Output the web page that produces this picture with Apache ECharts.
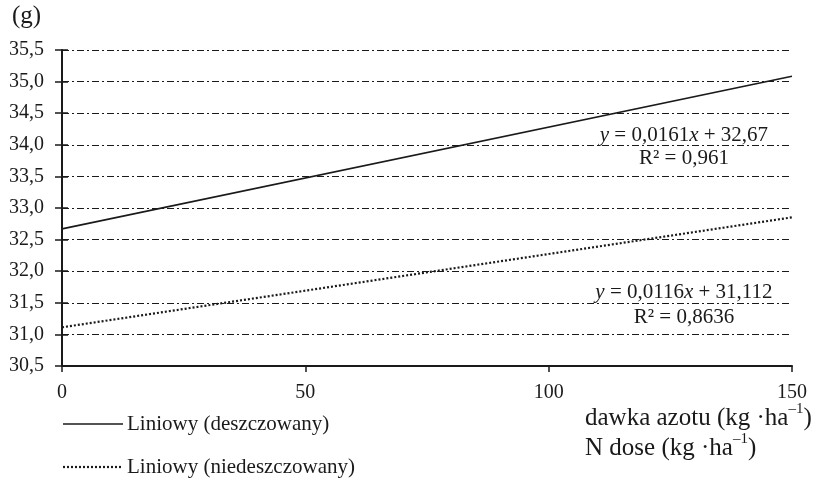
<!DOCTYPE html>
<html>
<head>
<meta charset="utf-8">
<title>Masa 1000 ziaren a dawka azotu</title>
<script src="https://cdn.jsdelivr.net/npm/echarts@6/dist/echarts.min.js"></script>
<style>
  html, body { margin: 0; padding: 0; background: #fff; }
  #chart { width: 818px; height: 486px; }
</style>
</head>
<body>
<div id="chart"></div>
<script>
// Nitrogen dose (kg/ha) at the ends of the fitted lines
const doses = [0, 150];
// Linear trend values, irrigated (deszczowany)
const irrigated = [32.67, 35.085];
// Linear trend values, non-irrigated (niedeszczowany)
const nonIrrigated = [31.112, 32.852];
// Trend equations and fit quality
const eqIrrigated = { slope: '0,0161', intercept: '32,67', r2: '0,961' };
const eqNonIrrigated = { slope: '0,0116', intercept: '31,112', r2: '0,8636' };
// Axis ranges
const yTicks = { min: 30.5, max: 35.5, step: 0.5 };
const xTicks = { min: 0, max: 150, step: 50 };

const FONT = '"Liberation Serif", "Times New Roman", serif';
const INK = '#1a1a1a';

const chart = echarts.init(document.getElementById('chart'), null, { renderer: 'canvas' });

const comma = v => v.toFixed(1).replace('.', ',');

function eqLabel(eq) {
  return '{i|y} = ' + eq.slope + '{i|x} + ' + eq.intercept;
}

const richText = {
  i: { fontFamily: FONT, fontSize: 21, fontStyle: 'italic', color: INK },
  n: { fontFamily: FONT, fontSize: 21, color: INK }
};

function annotation(x, y, text) {
  return {
    coord: [x, y],
    symbolSize: 0,
    label: {
      show: true,
      position: 'inside',
      formatter: text,
      fontFamily: FONT,
      fontSize: 21,
      color: INK,
      rich: richText
    }
  };
}

const titleRich = {
  n: { fontFamily: FONT, fontSize: 25, fill: INK, verticalAlign: 'bottom', lineHeight: 29 },
  s: { fontFamily: FONT, fontSize: 15, fill: INK, verticalAlign: 'top', lineHeight: 29 }
};

const option = {
  animation: false,
  backgroundColor: '#fff',
  grid: { left: 62, right: 26, top: 50, bottom: 120, containLabel: false },
  xAxis: [{
    type: 'value',
    min: xTicks.min, max: xTicks.max, interval: xTicks.step,
    axisLine: { show: true, lineStyle: { color: INK, width: 2 } },
    axisTick: { show: true, length: 6, lineStyle: { color: INK, width: 1.5 } },
    axisLabel: { fontFamily: FONT, fontSize: 20, color: INK, margin: 17 },
    splitLine: { show: false }
  }],
  yAxis: [{
    type: 'value',
    min: yTicks.min, max: yTicks.max, interval: yTicks.step,
    axisLine: { show: true, lineStyle: { color: INK, width: 2 } },
    axisTick: { show: true, length: 7, lineStyle: { color: INK, width: 1.5 } },
    axisLabel: { fontFamily: FONT, fontSize: 20, color: INK, margin: 18, formatter: comma },
    splitLine: {
      show: true,
      lineStyle: { color: INK, width: 1.2, type: [7, 3, 2, 3] }
    }
  }, {
    type: 'value',
    position: 'left',
    min: yTicks.min, max: yTicks.max, interval: yTicks.step,
    axisLine: { show: false },
    axisTick: { show: true, inside: true, length: 6, lineStyle: { color: INK, width: 1.5 } },
    axisLabel: { show: false },
    splitLine: { show: false }
  }],
  series: [{
    name: 'Liniowy (deszczowany)',
    type: 'line',
    data: doses.map((d, i) => [d, irrigated[i]]),
    showSymbol: false,
    lineStyle: { color: INK, width: 1.6, type: 'solid' },
    markPoint: {
      silent: true,
      data: [
        annotation(127.8, 34.15, eqLabel(eqIrrigated)),
        annotation(127.8, 33.78, 'R² = ' + eqIrrigated.r2)
      ]
    }
  }, {
    name: 'Liniowy (niedeszczowany)',
    type: 'line',
    data: doses.map((d, i) => [d, nonIrrigated[i]]),
    showSymbol: false,
    lineStyle: { color: INK, width: 2.2, type: [2, 2] },
    markPoint: {
      silent: true,
      data: [
        annotation(127.8, 31.66, eqLabel(eqNonIrrigated)),
        annotation(127.8, 31.27, 'R² = ' + eqNonIrrigated.r2)
      ]
    }
  }],
  graphic: [
    // y-axis unit
    { type: 'text', left: 12, top: 4, style: { text: '(g)', fontFamily: FONT, fontSize: 25, fill: INK } },
    // x-axis title, two languages
    { type: 'text', left: 585, top: 402, style: { text: '{n|dawka azotu (kg ·ha}{s|–1}{n|)}', rich: titleRich } },
    { type: 'text', left: 585, top: 432, style: { text: '{n|N dose (kg ·ha}{s|–1}{n|)}', rich: titleRich } },
    // legend
    { type: 'line', shape: { x1: 63, y1: 424, x2: 123, y2: 424 }, style: { stroke: INK, lineWidth: 1.6 } },
    { type: 'text', left: 127, top: 414, style: { text: 'Liniowy (deszczowany)', fontFamily: FONT, fontSize: 21, fill: INK } },
    { type: 'line', shape: { x1: 63, y1: 467, x2: 123, y2: 467 }, style: { stroke: INK, lineWidth: 2.2, lineDash: [2, 2] } },
    { type: 'text', left: 127, top: 457, style: { text: 'Liniowy (niedeszczowany)', fontFamily: FONT, fontSize: 21, fill: INK } }
  ]
};

chart.setOption(option);
</script>
</body>
</html>
